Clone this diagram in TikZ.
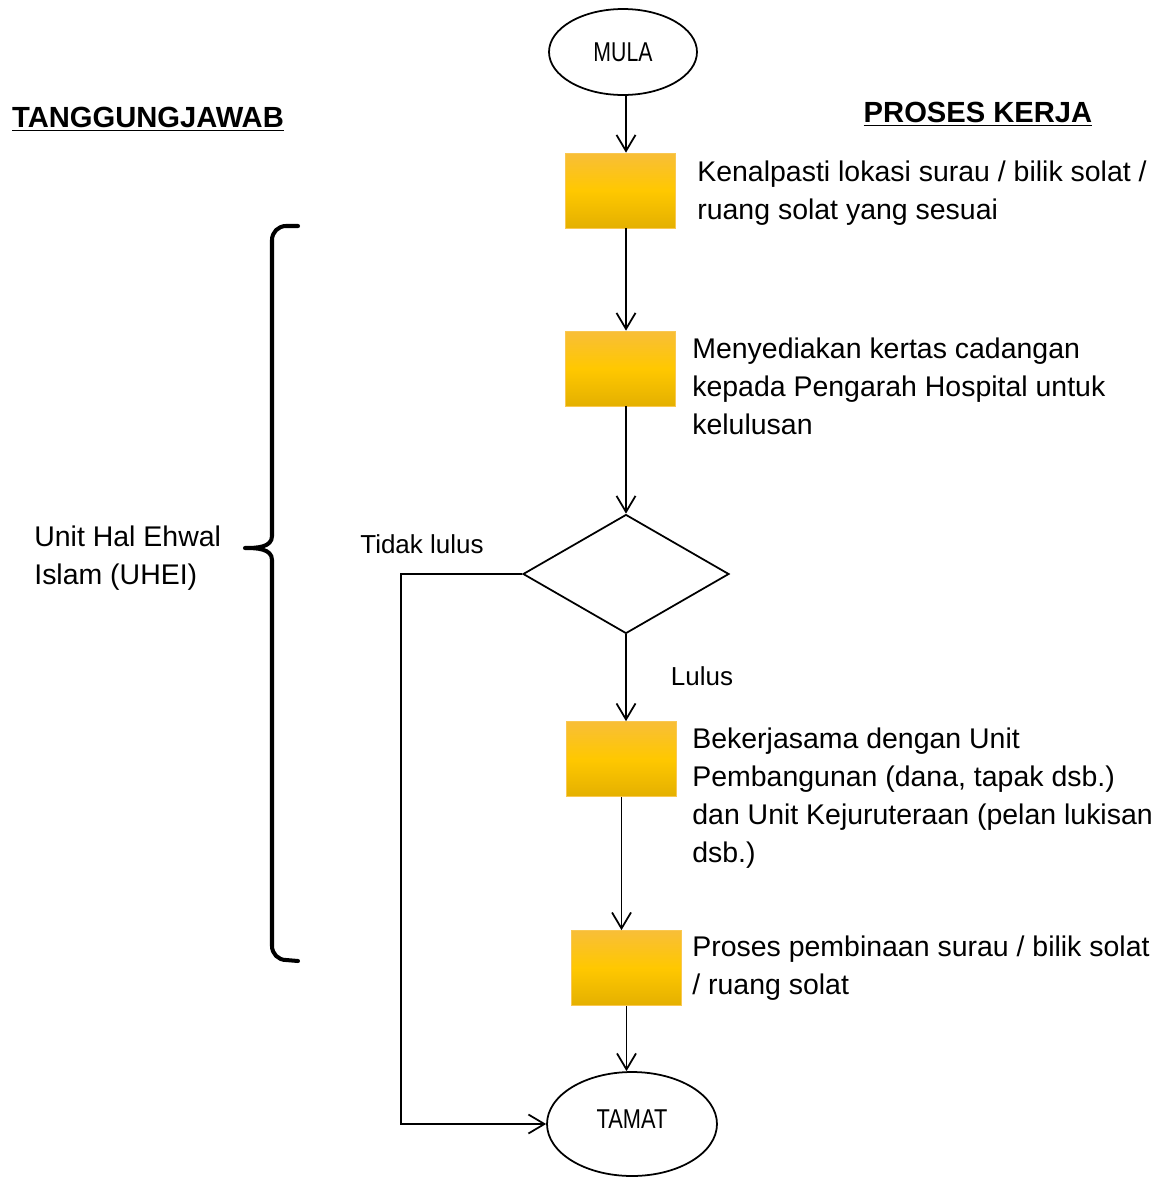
\documentclass[tikz,border=0pt]{standalone}
\usepackage{fontspec}
\setmainfont{Liberation Sans}
\usetikzlibrary{shapes.geometric,arrows.meta}
\definecolor{boxtop}{RGB}{248,190,56}
\definecolor{boxmid}{RGB}{255,200,0}
\definecolor{boxbot}{RGB}{228,176,0}
\definecolor{boxedge}{RGB}{250,200,80}
\begin{document}
\begin{tikzpicture}[x=0.02cm,y=-0.02cm,
  body/.style={inner sep=0pt,anchor=north west,align=left,font=\fontsize{16.2pt}{21.5pt}\selectfont},
  small/.style={inner sep=0pt,font=\fontsize{14.8pt}{18pt}\selectfont},
  term/.style={ellipse,draw,line width=1pt,inner sep=0pt,font=\fontsize{15.5pt}{18pt}\selectfont},
  stepbox/.style={rectangle,draw=boxedge,line width=0.4pt,top color=boxtop,bottom color=boxbot,middle color=boxmid,minimum width=2.2cm,minimum height=1.5cm,inner sep=0pt},
  decision/.style={diamond,draw,line width=1pt,minimum width=4.12cm,minimum height=2.38cm,inner sep=0pt},
  arr/.style={line width=1pt,-{Straight Barb[length=3.2mm,width=3.8mm,line width=1pt]}},
  head/.style={inner sep=0pt,font=\bfseries\fontsize{16.6pt}{20pt}\selectfont}
]
\useasboundingbox (0,0) rectangle (1167,1180);

% headings
\node[head] (hl) at (148,119) {\underline{TANGGUNGJAWAB}};
\node[head] (hr) at (978,114) {\underline{PROSES KERJA}};

% terminals
\node[term,minimum width=2.96cm,minimum height=1.72cm] (mula) at (623,52) {\scalebox{0.78}[1]{MULA}};
\node[term,minimum width=3.4cm,minimum height=2.08cm] (tamat) at (632,1124) {\raisebox{6pt}{\scalebox{0.8}[1]{TAMAT}}};

% step boxes
\node[stepbox] (b1) at (620,190.5) {};
\node[stepbox] (b2) at (620,368.5) {};
\node[decision] (dec) at (626,574) {};
\node[stepbox] (b3) at (621.5,759) {};
\node[stepbox] (b4) at (626.5,968) {};

% step texts
\node[body] (t1) at (697,161) {Kenalpasti lokasi surau / bilik solat /\\ruang solat yang sesuai};
\node[body] (t2) at (692,338) {Menyediakan kertas cadangan\\kepada Pengarah Hospital untuk\\kelulusan};
\node[body] (t3) at (692,728) {Bekerjasama dengan Unit\\Pembangunan (dana, tapak dsb.)\\dan Unit Kejuruteraan (pelan lukisan\\dsb.)};
\node[body] (t4) at (692,936) {Proses pembinaan surau / bilik solat\\/ ruang solat};

% labels
\node[small] (ltidak) at (422,544) {Tidak lulus};
\node[small] (llulus) at (702,676) {Lulus};
\node[body] (unit) at (34,526) {Unit Hal Ehwal\\Islam (UHEI)};

% connectors
\draw[arr] (mula.south -| dec.north) -- (dec.north |- b1.north);
\draw[arr] (dec.north |- b1.south) -- (dec.north |- b2.north);
\draw[arr] (dec.north |- b2.south) -- (dec.north);
\draw[arr] (dec.south) -- (dec.south |- b3.north);
\draw[arr] (b3.south) -- (b3.south |- b4.north);
\draw[arr] (b4.south) -- (b4.south |- tamat.north);
\draw[arr] (dec.west) -- ++(-121,0) |- (tamat.west);

% brace
\draw[line width=2.3pt,line cap=round,line join=round]
  (298,226) -- (286,226) to[out=180,in=90] (272,240) -- (272,536)
  to[out=-90,in=0] (245,548) to[out=0,in=90] (272,560) -- (272,946)
  to[out=-90,in=180] (286,960) -- (298,961);
\end{tikzpicture}
\end{document}
